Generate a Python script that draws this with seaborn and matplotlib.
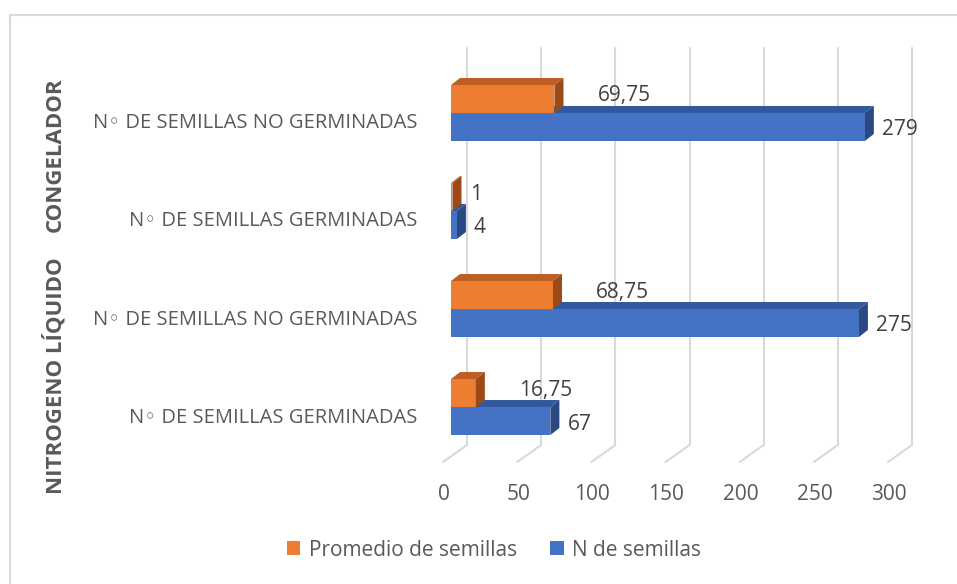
import numpy as np
import pandas as pd
import matplotlib
matplotlib.use("Agg")
import matplotlib.pyplot as plt
import seaborn as sns
from matplotlib.transforms import ScaledTranslation, IdentityTransform
from matplotlib.patches import Polygon, Patch
from matplotlib.lines import Line2D

# ---------------- data ----------------
groups = ["CONGELADOR", "CONGELADOR", "NITROGENO LÍQUIDO", "NITROGENO LÍQUIDO"]
categories = ["N◦ DE SEMILLAS NO GERMINADAS", "N◦ DE SEMILLAS GERMINADAS",
              "N◦ DE SEMILLAS NO GERMINADAS", "N◦ DE SEMILLAS GERMINADAS"]
series = ["Promedio de semillas", "N de semillas"]
promedio = [69.75, 1, 68.75, 16.75]
n_semillas = [279, 4, 275, 67]
x_ticks = [0, 50, 100, 150, 200, 250, 300]

# ---------------- style ----------------
FONT = ["Open Sans", "DejaVu Sans"]
ORANGE, BLUE = "#ED7D31", "#4472C4"
TOP = {ORANGE: "#BE5E24", BLUE: "#32599E"}
SIDE = {ORANGE: "#9C4A18", BLUE: "#2A4983"}
GRID = "#D9D9D9"
TXT = "#595959"
LBL = "#404040"

sns.set_theme(style="white")
plt.rcParams["font.family"] = FONT

keys = [f"{g}|{c}|{i}" for i, (g, c) in enumerate(zip(groups, categories))]
df = pd.DataFrame({
    "key": keys * 2,
    "series": [series[0]] * 4 + [series[1]] * 4,
    "value": promedio + n_semillas,
})

W, H = 957, 584
fig = plt.figure(figsize=(W / 100, H / 100), dpi=100)
ax = fig.add_axes([451 / W, (H - 462) / H, 445 / W, 414 / H])

sns.barplot(data=df, x="value", y="key", hue="series", order=keys,
            hue_order=series, palette=[ORANGE, BLUE], width=0.571,
            orient="y", saturation=1, linewidth=0, legend=False, ax=ax,
            zorder=3)

ax.set_xlim(0, 300)
ax.set_ylim(3.561, -0.663)
for s in ax.spines.values():
    s.set_visible(False)
ax.set_xlabel("")
ax.set_ylabel("")
ax.tick_params(length=0)

# x ticks
ax.set_xticks(x_ticks)
ax.set_xticklabels([str(t) for t in x_ticks], fontsize=15, color=TXT)
ax.tick_params(axis="x", pad=16)
for t in ax.get_xticklabels():
    t.set_transform(t.get_transform() + ScaledTranslation(-7 / 100, 0, fig.dpi_scale_trans))

# y ticks
ax.set_yticks(range(len(categories)))
ax.set_yticklabels(categories, fontsize=14.5, color=TXT)
ax.tick_params(axis="y", pad=24)
for t in ax.get_yticklabels():
    t.set_transform(t.get_transform() + ScaledTranslation(0, -8 / 100, fig.dpi_scale_trans))

# 3D-ish grid: back wall + floor diagonals (display coords, behind everything)
ident = IdentityTransform()
bx0, by0, bx1, by1 = ax.bbox.x0, ax.bbox.y0, ax.bbox.x1, ax.bbox.y1
for v in x_ticks:
    X = ax.transData.transform((v, 0))[0]
    ax.add_line(Line2D([X + 16, X + 16], [by0 + 17, by1], transform=ident,
                       color=GRID, lw=1.5, zorder=1, clip_on=False))
    ax.add_line(Line2D([X - 8, X + 16], [by0, by0 + 17], transform=ident,
                       color=GRID, lw=1.5, zorder=1, clip_on=False))

# 3D faces + labels
DX, DY = 9, 7
for container, vals, col in zip(ax.containers[:2], [promedio, n_semillas], [ORANGE, BLUE]):
    for rect, v in zip(container.patches, vals):
        x0, y0 = rect.get_x(), rect.get_y()
        w, h = rect.get_width(), rect.get_height()
        p0 = ax.transData.transform((x0, y0))
        p1 = ax.transData.transform((x0 + w, y0 + h))
        L, R = min(p0[0], p1[0]), max(p0[0], p1[0])
        B, T = min(p0[1], p1[1]), max(p0[1], p1[1])
        z = 3.5 if col == ORANGE else 2.5
        top = Polygon([(L, T), (R, T), (R + DX, T + DY), (L + DX, T + DY)],
                      closed=True, transform=ident, facecolor=TOP[col],
                      edgecolor="none", zorder=z, clip_on=False)
        side = Polygon([(R, B), (R, T), (R + DX, T + DY), (R + DX, B + DY)],
                       closed=True, transform=ident, facecolor=SIDE[col],
                       edgecolor="none", zorder=z, clip_on=False)
        ax.add_patch(top)
        ax.add_patch(side)
        txt = f"{v:g}".replace(".", ",")
        cy = (B + T) / 2
        if col == ORANGE:
            gap = 34 if v >= 10 else 9
            ax.text(R + DX + gap, cy + 3, txt, transform=ident, ha="left",
                    va="center", fontsize=15, color=LBL, zorder=5)
        else:
            ax.text(R + DX + 8, cy - 3, txt, transform=ident, ha="left",
                    va="center", fontsize=15, color=LBL, zorder=5)

# group labels
seen = []
for g in groups:
    if g not in seen:
        seen.append(g)
group_pos = {"CONGELADOR": 155, "NITROGENO LÍQUIDO": 376}
for g in seen:
    fig.text(55 / W, 1 - group_pos[g] / H, g, rotation=90, ha="center",
             va="center", fontsize=16, fontweight="bold", color=TXT)

# legend
handles = [Patch(facecolor=ORANGE, edgecolor="none", label=series[0]),
           Patch(facecolor=BLUE, edgecolor="none", label=series[1])]
leg = fig.legend(handles=handles, loc="center", bbox_to_anchor=(494 / W, 1 - 550 / H),
                 ncol=2, frameon=False, fontsize=15, handlelength=0.65,
                 handleheight=0.65, handletextpad=0.4, columnspacing=1.6)
for t in leg.get_texts():
    t.set_color(TXT)

# chart border
fig.add_artist(Line2D([10 / W, 10 / W], [0, 1 - 15 / H], transform=fig.transFigure,
                      color=GRID, lw=1.5))
fig.add_artist(Line2D([10 / W, 1], [1 - 15 / H, 1 - 15 / H], transform=fig.transFigure,
                      color=GRID, lw=1.5))

fig.savefig("out.png", dpi=100)
